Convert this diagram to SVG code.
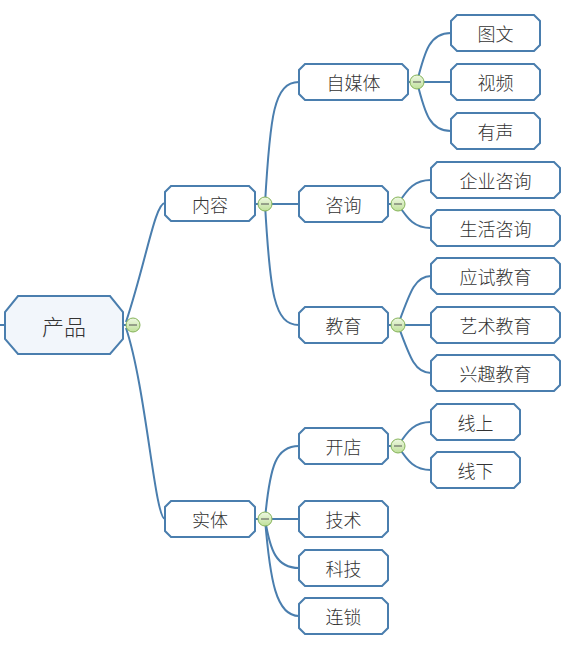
<svg xmlns="http://www.w3.org/2000/svg" width="579" height="649" viewBox="0 0 579 649">
<defs>
<linearGradient id="cg" x1="0" y1="0" x2="0" y2="1">
<stop offset="0" stop-color="#eef8e2"/>
<stop offset="1" stop-color="#bfe09a"/>
</linearGradient>
<style>
.n{fill:#ffffff;stroke:#4a7eae;stroke-width:2}
.r{fill:#f2f6fb;stroke:#4a7eae;stroke-width:2}
.t{font-family:"Noto Sans CJK SC","Noto Sans",sans-serif;font-size:18px;font-weight:300;fill:#333333;text-anchor:middle;dominant-baseline:central}
.rt{font-size:22px}
.c{fill:none;stroke:#4a7eae;stroke-width:2}
.k{fill:url(#cg);stroke:#86b35a;stroke-width:1}
.km{stroke:#555;stroke-width:1}
</style>
</defs>
<rect width="579" height="649" fill="#ffffff"/>
<g id="connectors">
<path class="c" d="M0,325 H5"/>
<path class="c" d="M123,325 H133"/>
<path class="c" d="M126,322 C146,262 155,203 165,203"/>
<path class="c" d="M126,328 C146,388 155,519 165,519"/>
<path class="c" d="M255,204 H299"/>
<path class="c" d="M265,204 C270,115 274,82 299,82"/>
<path class="c" d="M265,204 C270,293 274,325 299,325"/>
<path class="c" d="M255,519 H299"/>
<path class="c" d="M265,519 C270,465 276,446 299,446"/>
<path class="c" d="M265,519 C270,550 276,568 299,568"/>
<path class="c" d="M265,519 C270,580 276,616 299,616"/>
<path class="c" d="M408,82 H451"/>
<path class="c" d="M417,82 C425,50 430,33 451,33"/>
<path class="c" d="M417,82 C425,114 430,131 451,131"/>
<path class="c" d="M388,204 H398"/>
<path class="c" d="M398,204 C408,188 415,180 431,180"/>
<path class="c" d="M398,204 C408,220 415,228 431,228"/>
<path class="c" d="M388,325 H431"/>
<path class="c" d="M398,325 C410,292 415,276 431,276"/>
<path class="c" d="M398,325 C410,358 415,373 431,373"/>
<path class="c" d="M388,446 H398"/>
<path class="c" d="M398,446 C408,430 415,422 431,422"/>
<path class="c" d="M398,446 C408,462 415,470 431,470"/>
</g>
<g id="root"><path class="r" d="M18,296 H110 L123,312 V339 L110,354 H18 L5,339 V312 Z"/><text class="t rt" x="64" y="325">产品</text></g>
<g id="n-neirong"><path class="n" d="M171,186 H249 L255,192 V215 L249,221 H171 L165,215 V192 Z"/><text class="t" x="210" y="203.5">内容</text></g>
<g id="n-shiti"><path class="n" d="M171,501 H249 L255,507 V531 L249,537 H171 L165,531 V507 Z"/><text class="t" x="210" y="519">实体</text></g>
<g id="n-zimeiti"><path class="n" d="M305,64 H402 L408,70 V94 L402,100 H305 L299,94 V70 Z"/><text class="t" x="353.5" y="82">自媒体</text></g>
<g id="n-zixun"><path class="n" d="M305,186 H382 L388,192 V216 L382,222 H305 L299,216 V192 Z"/><text class="t" x="343.5" y="204">咨询</text></g>
<g id="n-jiaoyu"><path class="n" d="M305,307 H382 L388,313 V337 L382,343 H305 L299,337 V313 Z"/><text class="t" x="343.5" y="325">教育</text></g>
<g id="n-kaidian"><path class="n" d="M305,428 H382 L388,434 V458 L382,464 H305 L299,458 V434 Z"/><text class="t" x="343.5" y="446">开店</text></g>
<g id="n-jishu"><path class="n" d="M305,501 H382 L388,507 V531 L382,537 H305 L299,531 V507 Z"/><text class="t" x="343.5" y="519">技术</text></g>
<g id="n-keji"><path class="n" d="M305,550 H382 L388,556 V580 L382,586 H305 L299,580 V556 Z"/><text class="t" x="343.5" y="568">科技</text></g>
<g id="n-liansuo"><path class="n" d="M305,598 H382 L388,604 V628 L382,634 H305 L299,628 V604 Z"/><text class="t" x="343.5" y="616">连锁</text></g>
<g id="n-tuwen"><path class="n" d="M457,15 H534 L540,21 V45 L534,51 H457 L451,45 V21 Z"/><text class="t" x="495.5" y="33">图文</text></g>
<g id="n-shipin"><path class="n" d="M457,64 H534 L540,70 V94 L534,100 H457 L451,94 V70 Z"/><text class="t" x="495.5" y="82">视频</text></g>
<g id="n-yousheng"><path class="n" d="M457,113 H534 L540,119 V143 L534,149 H457 L451,143 V119 Z"/><text class="t" x="495.5" y="131">有声</text></g>
<g id="n-qiye"><path class="n" d="M437,162 H554 L560,168 V192 L554,198 H437 L431,192 V168 Z"/><text class="t" x="495.5" y="180">企业咨询</text></g>
<g id="n-shenghuo"><path class="n" d="M437,210 H554 L560,216 V240 L554,246 H437 L431,240 V216 Z"/><text class="t" x="495.5" y="228">生活咨询</text></g>
<g id="n-yingshi"><path class="n" d="M437,258 H554 L560,264 V288 L554,294 H437 L431,288 V264 Z"/><text class="t" x="495.5" y="276">应试教育</text></g>
<g id="n-yishu"><path class="n" d="M437,307 H554 L560,313 V337 L554,343 H437 L431,337 V313 Z"/><text class="t" x="495.5" y="325">艺术教育</text></g>
<g id="n-xingqu"><path class="n" d="M437,355 H554 L560,361 V385 L554,391 H437 L431,385 V361 Z"/><text class="t" x="495.5" y="373">兴趣教育</text></g>
<g id="n-xianshang"><path class="n" d="M437,404 H514 L520,410 V434 L514,440 H437 L431,434 V410 Z"/><text class="t" x="475.5" y="422">线上</text></g>
<g id="n-xianxia"><path class="n" d="M437,452 H514 L520,458 V482 L514,488 H437 L431,482 V458 Z"/><text class="t" x="475.5" y="470">线下</text></g>
<g id="toggles">
<circle class="k" cx="133" cy="325" r="7"/><path class="km" d="M129,325 H137"/>
<circle class="k" cx="265" cy="204" r="7"/><path class="km" d="M261,204 H269"/>
<circle class="k" cx="265" cy="519" r="7"/><path class="km" d="M261,519 H269"/>
<circle class="k" cx="417" cy="82" r="7"/><path class="km" d="M413,82 H421"/>
<circle class="k" cx="398" cy="204" r="7"/><path class="km" d="M394,204 H402"/>
<circle class="k" cx="398" cy="325" r="7"/><path class="km" d="M394,325 H402"/>
<circle class="k" cx="398" cy="446" r="7"/><path class="km" d="M394,446 H402"/>
</g>
</svg>
